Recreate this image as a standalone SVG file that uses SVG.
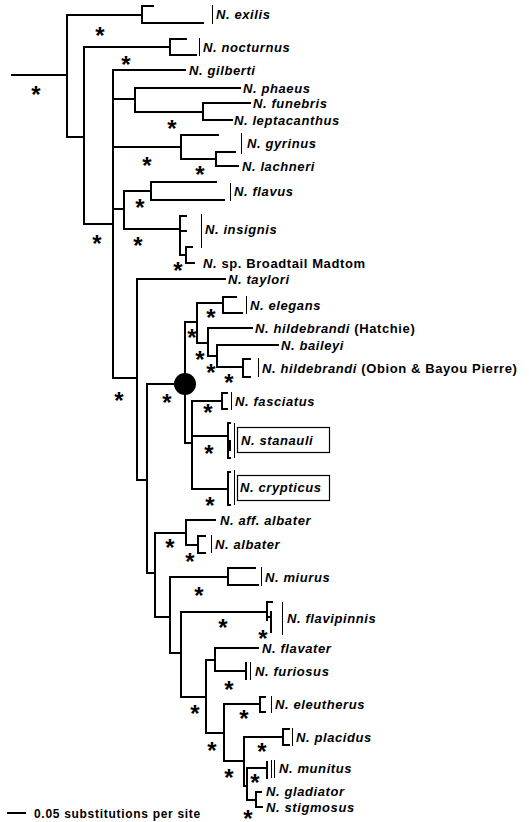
<svg xmlns="http://www.w3.org/2000/svg" width="529" height="822" viewBox="0 0 529 822">
<style>
.br{fill:none;stroke:#000;stroke-width:2;stroke-linecap:square}
.bar{fill:none;stroke:#000;stroke-width:1}
.lb{font-family:"Liberation Sans",Arial,sans-serif;font-weight:bold;font-size:13px;letter-spacing:0.6px;fill:#000}
.it{font-style:italic}
.st{font-family:"Liberation Sans",Arial,sans-serif;font-weight:bold;font-size:24px;fill:#000;text-anchor:middle}
.box{fill:none;stroke:#000;stroke-width:1.2}
</style>
<rect width="529" height="822" fill="#fff"/>
<g id="connectors">
<path class="br" d="M12,75H67 M67,15V137 M67,15H142 M67,137H84"/>
<path class="br" d="M142,6V23 M142,6H153 M142,23H203"/>
<path class="br" d="M84,47V224 M84,47H170 M84,224H113"/>
<path class="br" d="M170,39V55 M170,39H186 M170,55H196"/>
<path class="br" d="M113,70V378 M113,70H185 M113,99H135 M113,147H181 M113,209H124 M113,378H137"/>
<path class="br" d="M135,88V112 M135,88H240 M135,112H203"/>
<path class="br" d="M203,103V120 M203,103H250 M203,120H232"/>
<path class="br" d="M181,135V159 M181,135H218 M181,159H216"/>
<path class="br" d="M216,152V166 M216,152H235 M216,166H238"/>
<path class="br" d="M124,191V229 M124,191H151 M124,229H180"/>
<path class="br" d="M151,182V200 M151,182H216 M151,200H224"/>
<path class="br" d="M180,216V255 M180,216H186 M180,231H186 M180,255H186"/>
<path class="br" d="M186,247V263 M186,247H192 M186,263H194"/>
<path class="br" d="M137,279V480 M137,279H225 M137,480H147"/>
<path class="br" d="M147,384V573 M147,384H178 M147,573H155"/>
<path class="br" d="M185,322V443 M185,322H197 M185,443H192"/>
<path class="br" d="M197,303V343 M197,303H223 M197,343H208"/>
<path class="br" d="M223,297V313 M223,297H236 M223,313H242"/>
<path class="br" d="M208,328V356 M208,328H252 M208,356H217"/>
<path class="br" d="M217,345V367 M217,345H278 M217,367H243"/>
<path class="br" d="M243,359V377 M243,359H250 M243,377H250"/>
<path class="br" d="M192,401V489 M192,401H222 M192,436H228 M192,489H228"/>
<path class="br" d="M222,393V409 M222,393H227 M222,409H227"/>
<path class="br" d="M228,423V458 M228,423H230 M228,458H230 M230,441V450"/>
<path class="br" d="M228,472V505 M228,472H230 M228,505H230"/>
<path class="br" d="M155,533V617 M155,533H186 M155,617H170"/>
<path class="br" d="M186,520V545 M186,520H215 M186,545H198"/>
<path class="br" d="M198,536V553 M198,536H205 M198,553H205"/>
<path class="br" d="M170,577V653 M170,577H228 M170,653H181"/>
<path class="br" d="M228,568V585 M228,568H255 M228,585H258"/>
<path class="br" d="M181,612V697 M181,612H267 M181,697H206"/>
<path class="br" d="M267,602V620 M267,602H272 M267,617H271 M271,612V632"/>
<path class="br" d="M206,660V733 M206,660H215 M206,733H224"/>
<path class="br" d="M215,648V671 M215,648H258 M215,671H246 M246,663V679"/>
<path class="br" d="M224,704V761 M224,704H260 M224,761H244"/>
<path class="br" d="M260,697V712 M260,697H265 M260,712H265"/>
<path class="br" d="M244,737V786 M244,737H283 M244,786H247"/>
<path class="br" d="M283,729V745 M283,729H289 M283,745H289"/>
<path class="br" d="M247,768V800 M247,768H267 M247,800H256 M267,762V778"/>
<path class="br" d="M256,792V807 M256,792H261 M256,807H262"/>
<path class="br" d="M8,813H25"/>
</g>
<g id="node-focal">
<circle cx="185" cy="384" r="11" fill="#000"/>
</g>
<g id="node-exilis"><path class="bar" d="M212.5,5V24"/><text class="lb" x="216" y="19"><tspan class="it">N. exilis</tspan></text></g>
<g id="node-nocturnus"><path class="bar" d="M199.5,38V56"/><text class="lb" x="203" y="51.5"><tspan class="it">N. nocturnus</tspan></text></g>
<g id="node-gilberti"><text class="lb" x="189" y="74.5"><tspan class="it">N. gilberti</tspan></text></g>
<g id="node-phaeus"><text class="lb" x="243" y="92.5"><tspan class="it">N. phaeus</tspan></text></g>
<g id="node-funebris"><text class="lb" x="253" y="107.5"><tspan class="it">N. funebris</tspan></text></g>
<g id="node-leptacanthus"><text class="lb" x="234" y="124.5"><tspan class="it">N. leptacanthus</tspan></text></g>
<g id="node-gyrinus"><path class="bar" d="M241.5,133V154"/><text class="lb" x="247" y="147.5"><tspan class="it">N. gyrinus</tspan></text></g>
<g id="node-lachneri"><text class="lb" x="242" y="170.5"><tspan class="it">N. lachneri</tspan></text></g>
<g id="node-flavus"><path class="bar" d="M230.5,183V201"/><text class="lb" x="234" y="196"><tspan class="it">N. flavus</tspan></text></g>
<g id="node-insignis"><path class="bar" d="M201.5,214V248"/><text class="lb" x="205" y="233.5"><tspan class="it">N. insignis</tspan></text></g>
<g id="node-broadtail"><text class="lb" x="203" y="267.5"><tspan class="it">N.</tspan> sp. Broadtail Madtom</text></g>
<g id="node-taylori"><text class="lb" x="228" y="283.5"><tspan class="it">N. taylori</tspan></text></g>
<g id="node-elegans"><path class="bar" d="M246.5,296V314"/><text class="lb" x="250" y="309.5"><tspan class="it">N. elegans</tspan></text></g>
<g id="node-hildebrandi-hatchie"><text class="lb" x="255" y="332.5"><tspan class="it">N. hildebrandi</tspan> (Hatchie)</text></g>
<g id="node-baileyi"><text class="lb" x="281" y="349.5"><tspan class="it">N. baileyi</tspan></text></g>
<g id="node-hildebrandi-obion"><path class="bar" d="M258.5,358V377"/><text class="lb" x="262" y="372.5"><tspan class="it">N. hildebrandi</tspan> (Obion &amp; Bayou Pierre)</text></g>
<g id="node-fasciatus"><path class="bar" d="M231.5,392V410"/><text class="lb" x="235" y="405.5"><tspan class="it">N. fasciatus</tspan></text></g>
<g id="node-stanauli"><path class="bar" d="M234.5,423V458"/><rect class="box" x="237.5" y="427.5" width="92" height="25"/><text class="lb" x="241" y="444.5"><tspan class="it">N. stanauli</tspan></text></g>
<g id="node-crypticus"><path class="bar" d="M234.5,470V505"/><rect class="box" x="237.5" y="475.5" width="92" height="25"/><text class="lb" x="240" y="492"><tspan class="it">N. crypticus</tspan></text></g>
<g id="node-aff-albater"><text class="lb" x="220" y="524.5"><tspan class="it">N. aff. albater</tspan></text></g>
<g id="node-albater"><path class="bar" d="M211.5,535V553"/><text class="lb" x="215" y="549"><tspan class="it">N. albater</tspan></text></g>
<g id="node-miurus"><path class="bar" d="M261.5,567V586"/><text class="lb" x="265" y="581.5"><tspan class="it">N. miurus</tspan></text></g>
<g id="node-flavipinnis"><path class="bar" d="M282.5,602V635"/><text class="lb" x="287" y="622.5"><tspan class="it">N. flavipinnis</tspan></text></g>
<g id="node-flavater"><text class="lb" x="262" y="652.5"><tspan class="it">N. flavater</tspan></text></g>
<g id="node-furiosus"><path class="bar" d="M250.5,662V680"/><text class="lb" x="255" y="675.5"><tspan class="it">N. furiosus</tspan></text></g>
<g id="node-eleutherus"><path class="bar" d="M271.5,696V713"/><text class="lb" x="275" y="708.5"><tspan class="it">N. eleutherus</tspan></text></g>
<g id="node-placidus"><path class="bar" d="M292.5,728V746"/><text class="lb" x="296" y="741.5"><tspan class="it">N. placidus</tspan></text></g>
<g id="node-munitus"><path class="bar" d="M271.5,760V778 M274.5,760V778"/><text class="lb" x="279" y="772.5"><tspan class="it">N. munitus</tspan></text></g>
<g id="node-gladiator"><text class="lb" x="266" y="796"><tspan class="it">N. gladiator</tspan></text></g>
<g id="node-stigmosus"><text class="lb" x="266" y="811.5"><tspan class="it">N. stigmosus</tspan></text></g>
<g id="scale"><text class="lb" x="34" y="817.5" style="font-size:12px;letter-spacing:0.7px">0.05 substitutions per site</text></g>
<g id="support">
<text class="st" x="100" y="43.5">*</text>
<text class="st" x="126" y="72.5">*</text>
<text class="st" x="36" y="102.5">*</text>
<text class="st" x="172" y="136.5">*</text>
<text class="st" x="147" y="173.5">*</text>
<text class="st" x="200" y="182.5">*</text>
<text class="st" x="140" y="215.5">*</text>
<text class="st" x="97" y="251.5">*</text>
<text class="st" x="138" y="253.5">*</text>
<text class="st" x="178" y="278.5">*</text>
<text class="st" x="211" y="325.5">*</text>
<text class="st" x="192" y="345.5">*</text>
<text class="st" x="200" y="367.5">*</text>
<text class="st" x="211" y="380.5">*</text>
<text class="st" x="229" y="390.5">*</text>
<text class="st" x="119" y="408.5">*</text>
<text class="st" x="167" y="410.5">*</text>
<text class="st" x="208" y="420.5">*</text>
<text class="st" x="209" y="461.5">*</text>
<text class="st" x="210" y="513.5">*</text>
<text class="st" x="170" y="555.5">*</text>
<text class="st" x="190" y="569.5">*</text>
<text class="st" x="199" y="603.5">*</text>
<text class="st" x="223" y="635.5">*</text>
<text class="st" x="263" y="646.5">*</text>
<text class="st" x="229" y="697.5">*</text>
<text class="st" x="195" y="721.5">*</text>
<text class="st" x="244" y="726.5">*</text>
<text class="st" x="212" y="758.5">*</text>
<text class="st" x="262" y="759.5">*</text>
<text class="st" x="229" y="785.5">*</text>
<text class="st" x="255" y="790.5">*</text>
<text class="st" x="248" y="826.5">*</text>
</g>
</svg>
